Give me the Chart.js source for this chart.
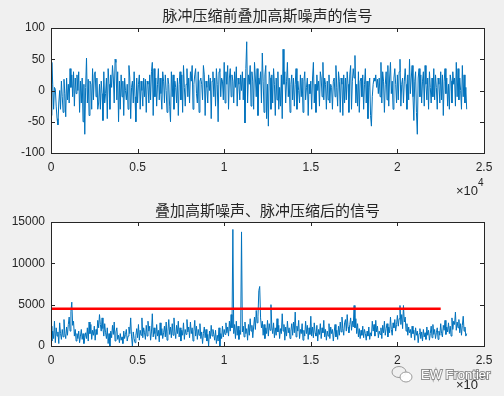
<!DOCTYPE html>
<html>
<head>
<meta charset="utf-8">
<script src="https://cdn.jsdelivr.net/npm/chart.js@4"></script>
<style>
  html, body { margin: 0; padding: 0; background: #f0f0f0; }
  canvas { display: block; }
</style>
</head>
<body>
<canvas id="topChart" width="504" height="198"></canvas>
<canvas id="bottomChart" width="504" height="198"></canvas>
<script>
// === Data ===
const sampleStep = 50; // one value every 50 samples, 0..24000

// signal before pulse compression (with gaussian noise)
const rawSignal = [
  -40, 45, 10, -30, 5, 2, -25, -45, -55, -20, 0, -30, 15, -10, -35, 18, -5, -42, 20, -15,
  10, -20, 35, 5, 25, -10, 30, -25, 20, -5, 25, 0, 30, -35, 15, -20, 20, -50, 10, -70,
  5, 52, -20, 18, -40, 15, 10, -30, 35, -15, 25, 30, -10, 20, -30, -20, 10, -30, 15, -5,
  -48, 30, -20, -5, 20, -45, 35, 10, -30, 25, 5, 40, 20, -20, 50, 45, -15, 30, -50, 15,
  -30, 25, -10, 15, -40, 20, 0, -15, 10, -30, 40, 20, -45, 5, 15, -20, 30, -10, -50, 20,
  -20, 10, 25, -30, 15, 0, -25, 20, -10, 18, -35, 15, 10, -20, 25, -15, 30, 45, -40, 35,
  -10, 20, -25, 10, 35, -15, 20, -5, -30, 30, 15, -20, 25, 0, -35, 20, 10, -25, -50, 30,
  -10, 25, -30, 15, 5, -20, 20, -40, 10, 30, -15, 25, -35, 40, 5, -25, 10, 35, -10, 20,
  -20, 30, 15, 40, -30, 10, 25, 35, -5, -20, 30, -35, 15, 20, 10, -15, 40, 25, -40, 15,
  5, -20, 25, 0, 20, -45, 15, 30, -10, 20, -25, 35, 10, -50, 30, 35, -10, 20, 15, -15,
  45, -20, 30, 10, 40, -30, 20, 35, -10, 25, 15, -20, 30, 5, 38, -25, 20, 10, -15, 25,
  0, 30, -15, 20, -52, 35, 78, -20, 25, 10, 40, -25, 30, 15, -30, 45, 20, -10, 35, -40,
  20, 10, 30, -20, 60, 15, -35, 25, 40, -45, 10, -57, 30, 20, -30, 25, -20, 35, 10, -40,
  20, -15, 30, -30, 5, -25, 25, -45, 66, 10, 30, -20, 15, 45, -10, 20, -35, 10, 25, -15,
  20, -25, 10, 35, -30, 15, 0, -20, 25, -10, 20, -35, 15, 30, -15, 5, 20, -40, 10, -5,
  15, -30, 20, 45, -20, 10, -35, 25, 0, 15, -25, 30, 20, -10, 45, -15, 20, 10, -30, 15,
  -15, 25, -20, 10, 5, -30, 15, 20, -10, 40, 5, -25, 30, 15, -35, 20, 10, -40, 25, -20,
  20, -15, 30, 10, -35, 25, 40, -30, 15, 35, 20, 56, -20, 10, -25, 30, -35, 15, 20, -10,
  25, -30, 10, 35, -20, 15, -45, 5, 20, -40, -57, -10, 10, 20, 15, 25, 5, 18, -5, 20,
  -10, 45, -20, 30, 15, -35, 10, 30, -15, 40, -25, 20, 45, -5, 15, -30, 20, 35, 10, -20,
  25, -15, 30, 50, -25, 10, 20, -20, 15, 35, 10, -30, 25, -15, 50, -5, 20, 40, -10, -48,
  15, 30, -35, -70, 20, 35, -10, 25, -20, 15, 30, -25, 40, 10, -15, 20, -30, 30, 5, -20,
  20, -10, 35, -15, 25, 5, -30, 20, 10, -20, 30, -15, 25, -40, 15, 35, -5, 20, -25, 10,
  -30, 25, 15, -20, 30, 10, 20, -25, 45, -10, 35, -15, 20, 0, -30, 40, -10, 25, -20, 5,
  -30
];

// signal after pulse compression (magnitude)
const compressedSignal = [
  2400, 600, 1800, 900, 3000, 400, 2200, 1200, 1700, 300, 2800, 1500, 800, 2000, 1100, 3200, 1500, 900, 2300, 1300,
  2600, 3500, 1800, 4200, 5300, 2500, 3000, 1200, 2000, 600, 1500, 900, 1800, 400, 1200, 2000, 800, 1500, 300, 1000,
  1600, 900, 2200, 600, 2900, 1500, 2600, 800, 1900, 1300, 2400, 700, 2000, 1400, 3100, 2200, 3800, 2600, 1800, 3400,
  2100, 1200, 2700, 1600, 900, 2200, 300, 1500, 0, 1800, 1000, 2500, 1400, 2900, 600, 1700, 2200, 800, 1300, 400,
  1500, 700, 1100, 300, 1800, 900, 1400, 2000, 600, 1200, 2300, 1500, 3400, 1100, 0, 1700, 900, 400, 1300, 2100,
  1000, 2600, 700, 1900, 1300, 3400, 1000, 2200, 1600, 800, 2500, 1200, 3000, 1800, 2400, 700, 1700, 3900, 1100, 2200,
  1500, 800, 2600, 1200, 1900, 500, 2800, 1300, 2100, 900, 1600, 2400, 1100, 2900, 700, 1800, 3200, 1400, 2300, 1000,
  2700, 1300, 3400, 1800, 900, 2500, 1500, 3000, 1100, 2200, 600, 1900, 1300, 2800, 800, 2000, 1400, 3200, 1700, 2300,
  1000, 2900, 1500, 2200, 600, 1800, 3100, 1200, 2400, 800, 2000, 1300, 2700, 900, 1700, 300, 1500, 2300, 1000, 2000,
  600, 1400, 0, 1800, 900, 2500, 1200, 2000, 1400, 700, 1900, 300, 1300, 600, 2200, 0, 1500, 900, 2400, 1100,
  2000, 1400, 2800, 1600, 2300, 1200, 3000, 1800, 3800, 2200, 14100, 1500, 2600, 900, 3000, 1300, 2400, 800, 1900, 1400,
  13800, 1700, 2400, 1100, 2900, 1500, 2100, 700, 2600, 1300, 3300, 1800, 2500, 1000, 2300, 3500, 2000, 4300, 2800, 3600,
  6700, 7200, 3400, 2200, 3000, 1300, 2600, 900, 2200, 1500, 3100, 1200, 2700, 1900, 5000, 2300, 1500, 2800, 1000, 2200,
  1300, 3300, 1700, 2500, 900, 2100, 1500, 3900, 1800, 2600, 700, 2300, 1200, 3000, 1600, 2200, 900, 1800, 2700, 1300,
  2900, 1600, 4100, 1100, 2400, 1800, 3100, 900, 2000, 1500, 2700, 700, 1900, 1200, 3000, 1500, 2500, 800, 2200, 1400,
  3600, 1200, 2300, 1000, 2800, 1600, 1200, 2500, 600, 2000, 1400, 2700, 900, 2200, 1600, 3100, 1100, 2000, 700, 1800,
  1200, 2700, 900, 2300, 1500, 2000, 600, 1700, 2600, 1100, 1900, 800, 2400, 1300, 2900, 1700, 3500, 2100, 1300, 2800,
  3200, 1800, 3800, 2300, 1600, 2600, 3400, 1900, 3000, 2300, 4900, 2200, 3300, 1500, 2700, 1100, 2100, 900, 1900, 1300,
  2400, 1000, 2000, 1500, 700, 1800, 1200, 2300, 800, 1600, 1200, 3000, 1800, 2600, 1200, 3100, 1700, 2400, 1000, 1800,
  1400, 2200, 900, 2500, 1600, 3000, 1300, 2100, 2700, 1100, 2300, 1600, 3500, 2000, 1300, 2800, 2200, 3200, 1800, 2600,
  3700, 2400, 3300, 4900, 2600, 3800, 2100, 4900, 2900, 3500, 1800, 2700, 1300, 2300, 1600, 2000, 1000, 2400, 1500, 1900,
  700, 2200, 1300, 1800, 400, 1500, 2100, 900, 1700, 600, 2000, 1100, 1600, 800, 2300, 1300, 1900, 700, 1500, 2400,
  1000, 2600, 1400, 2000, 900, 1600, 2200, 800, 1800, 1300, 2700, 1500, 1100, 2500, 1900, 3100, 1400, 2300, 1700, 2800,
  1500, 2400, 1200, 3400, 2000, 3000, 2600, 4100, 1900, 2900, 2200, 3200, 1600, 2700, 1300, 2500, 3600, 1800, 2300, 1200,
  1500
];

const thresholdLevel = 4500;
const thresholdRange = [0, 22500];

const xTicks = [0, 5000, 10000, 15000, 20000, 25000];
const xTickLabels = ['0', '0.5', '1', '1.5', '2', '2.5'];
const topYTicks = [-100, -50, 0, 50, 100];
const bottomYTicks = [0, 5000, 10000, 15000];

const topTitle = '脉冲压缩前叠加高斯噪声的信号';
const bottomTitle = '叠加高斯噪声、脉冲压缩后的信号';

// === Helpers ===
const TXT = '#262626';
const tickFont = { family: "'Liberation Sans', Arial, sans-serif", size: 12 };
const toPoints = arr => arr.map((v, i) => ({ x: i * sampleStep, y: v }));

// MATLAB-like axes: white box, inward ticks on all sides, title, exponent
const matlabAxes = {
  id: 'matlabAxes',
  beforeDraw(chart) {
    const { ctx, chartArea: a } = chart;
    ctx.save();
    ctx.fillStyle = '#ffffff';
    ctx.fillRect(a.left, a.top, a.right - a.left, a.bottom - a.top);
    ctx.restore();
  },
  afterDraw(chart, args, opts) {
    const { ctx, chartArea: a, scales } = chart;
    ctx.save();
    ctx.strokeStyle = TXT;
    ctx.lineWidth = 1;
    ctx.strokeRect(Math.round(a.left) + 0.5, Math.round(a.top) + 0.5,
      Math.round(a.right - a.left), Math.round(a.bottom - a.top));
    const tl = 4;
    ctx.beginPath();
    scales.x.ticks.forEach(t => {
      const px = Math.round(scales.x.getPixelForValue(t.value)) + 0.5;
      ctx.moveTo(px, a.bottom); ctx.lineTo(px, a.bottom - tl);
      ctx.moveTo(px, a.top); ctx.lineTo(px, a.top + tl);
    });
    scales.y.ticks.forEach(t => {
      const py = Math.round(scales.y.getPixelForValue(t.value)) + 0.5;
      ctx.moveTo(a.left, py); ctx.lineTo(a.left + tl, py);
      ctx.moveTo(a.right, py); ctx.lineTo(a.right - tl, py);
    });
    ctx.stroke();

    // title
    ctx.fillStyle = TXT;
    ctx.font = "15px 'Noto Sans CJK SC', sans-serif";
    ctx.textAlign = 'center';
    ctx.textBaseline = 'middle';
    ctx.fillText(opts.title, (a.left + a.right) / 2, opts.titleY);

    // x10^4 exponent
    ctx.font = "13px 'Liberation Sans', Arial, sans-serif";
    ctx.textAlign = 'right';
    ctx.textBaseline = 'middle';
    ctx.fillText('\u00d710', a.right - 6, opts.expY);
    ctx.font = "10px 'Liberation Sans', Arial, sans-serif";
    ctx.textAlign = 'left';
    ctx.fillText('4', a.right - 6, opts.expY - 8);

    if (opts.watermark) {
      // wechat-style icon + text (canvas-local coordinates)
      const wy = opts.watermark.y;
      ctx.strokeStyle = '#9a9a9a';
      ctx.lineWidth = 1;
      ctx.beginPath();
      ctx.ellipse(399, wy - 3, 7, 5.5, 0, 0, Math.PI * 2);
      ctx.stroke();
      ctx.fillStyle = 'rgba(255,255,255,0.9)';
      ctx.beginPath();
      ctx.ellipse(406, wy + 2, 6, 5, 0, 0, Math.PI * 2);
      ctx.fill();
      ctx.stroke();
      ctx.font = "13px 'Liberation Sans', Arial, sans-serif";
      ctx.textAlign = 'left';
      ctx.textBaseline = 'middle';
      ctx.lineWidth = 2;
      ctx.strokeStyle = 'rgba(120,120,120,0.8)';
      ctx.strokeText('EW Frontier', 421, wy);
      ctx.fillStyle = '#ffffff';
      ctx.fillText('EW Frontier', 421, wy);
    }
    ctx.restore();
  }
};

function makeOptions(cfg) {
  return {
    responsive: false,
    animation: false,
    events: [],
    layout: { padding: { left: 0, right: 20, top: cfg.padTop, bottom: 0 } },
    plugins: {
      legend: { display: false },
      tooltip: { enabled: false },
      matlabAxes: cfg.axesOpts
    },
    scales: {
      x: {
        type: 'linear', min: 0, max: 25000,
        grid: { display: false, drawTicks: false },
        border: { display: false },
        afterBuildTicks: s => { s.ticks = xTicks.map(v => ({ value: v })); },
        afterFit: s => { s.height = cfg.xHeight; },
        ticks: {
          color: TXT, font: tickFont, padding: 7, maxRotation: 0,
          callback: (v, i) => xTickLabels[i]
        }
      },
      y: {
        type: 'linear', min: cfg.yTicks[0], max: cfg.yTicks[cfg.yTicks.length - 1],
        grid: { display: false, drawTicks: false },
        border: { display: false },
        afterBuildTicks: s => { s.ticks = cfg.yTicks.map(v => ({ value: v })); },
        afterFit: s => { s.width = 51; },
        ticks: { color: TXT, font: tickFont, padding: 6, callback: v => String(v) }
      }
    }
  };
}

new Chart(document.getElementById('topChart'), {
  type: 'line',
  data: {
    datasets: [{
      data: toPoints(rawSignal),
      borderColor: '#0072bd', borderWidth: 1,
      pointRadius: 0, tension: 0
    }]
  },
  options: makeOptions({
    padTop: 28, xHeight: 45, yTicks: topYTicks,
    axesOpts: { title: topTitle, titleY: 15, expY: 191 }
  }),
  plugins: [matlabAxes]
});

new Chart(document.getElementById('bottomChart'), {
  type: 'line',
  data: {
    datasets: [{
      data: thresholdRange.map(x => ({ x, y: thresholdLevel })),
      borderColor: '#ff0000', borderWidth: 2.5,
      pointRadius: 0, order: 0
    }, {
      data: toPoints(compressedSignal),
      borderColor: '#0072bd', borderWidth: 1,
      pointRadius: 0, tension: 0, order: 1
    }]
  },
  options: makeOptions({
    padTop: 24, xHeight: 50, yTicks: bottomYTicks,
    axesOpts: { title: bottomTitle, titleY: 12, expY: 187, watermark: { y: 177 } }
  }),
  plugins: [matlabAxes]
});
</script>
</body>
</html>
